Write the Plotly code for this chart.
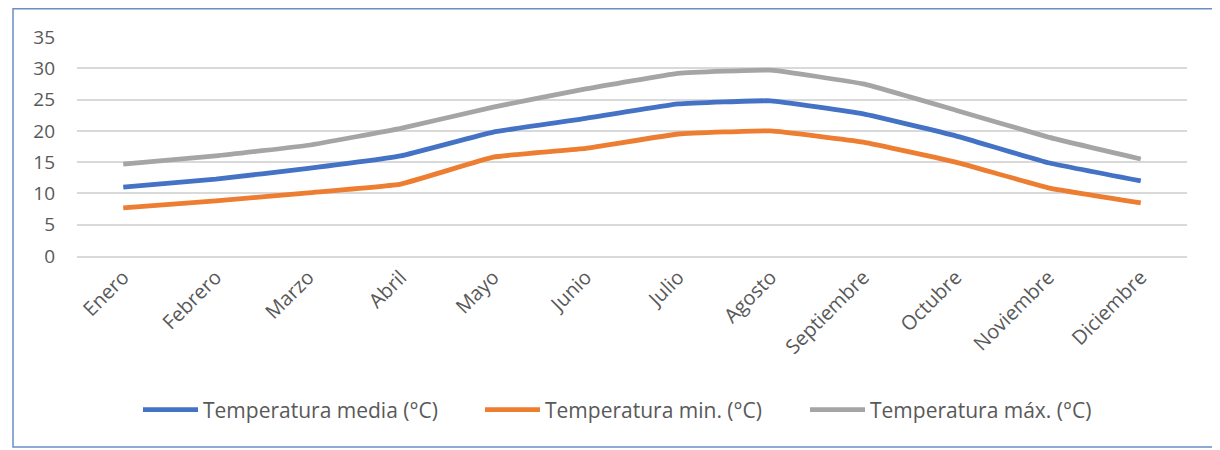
import plotly.graph_objects as go

meses = ["Enero", "Febrero", "Marzo", "Abril", "Mayo", "Junio", "Julio",
         "Agosto", "Septiembre", "Octubre", "Noviembre", "Diciembre"]
t_media = [11.0, 12.3, 14.0, 16.0, 19.8, 22.0, 24.3, 24.8, 22.7, 19.2, 14.9, 12.0]
t_min = [7.7, 8.8, 10.1, 11.5, 15.8, 17.2, 19.5, 20.0, 18.2, 15.0, 10.9, 8.5]
t_max = [14.7, 16.0, 17.7, 20.4, 23.8, 26.7, 29.2, 29.7, 27.5, 23.3, 19.0, 15.5]

names = ["Temperatura media (°C)", "Temperatura min. (°C)", "Temperatura máx. (°C)"]
colors = ["#4472C4", "#ED7D31", "#A5A5A5"]
series = [t_media, t_min, t_max]
legend_ids = ["legend", "legend2", "legend3"]

# page body has an 8px margin; figure coords = screen coords - 8
W, H = 1212, 442
L, R, T, B = 69, 33, 29, 194
pw = W - L - R
ph = H - T - B

def px_x(x):
    return (x - L) / pw

def px_y(y):
    return (T + ph - y) / ph

fig = go.Figure()
for n, c, s, lg in zip(names, colors, series, legend_ids):
    fig.add_trace(go.Scatter(x=meses, y=s, name=n, mode="lines", legend=lg,
                             line=dict(color=c, width=4.8, shape="spline", smoothing=0.3)))

legend_x = [130, 472, 797]
legends = {}
for lg, lx in zip(legend_ids, legend_x):
    legends[lg] = dict(orientation="h", x=px_x(lx), xanchor="left",
                       y=px_y(402), yanchor="middle",
                       font=dict(size=21, color="#595959"),
                       itemwidth=55, bgcolor="rgba(0,0,0,0)")

fig.update_layout(
    width=W, height=H,
    margin=dict(l=L, r=R, t=T, b=B, autoexpand=False),
    paper_bgcolor="white", plot_bgcolor="white",
    font=dict(family="'Open Sans', sans-serif", color="#595959", size=16),
    showlegend=True,
    **legends,
    xaxis=dict(type="category", range=[-0.5, 11.5], tickangle=-45,
               showgrid=False, showline=True, linecolor="#D9D9D9", linewidth=1.5,
               ticks="", automargin=False, tickfont=dict(size=20, color="#595959")),
    yaxis=dict(range=[0, 35], dtick=5, showgrid=True, gridcolor="#D9D9D9",
               gridwidth=1.5, zeroline=False, ticks="", automargin=False,
               ticklabelstandoff=21,
               tickfont=dict(size=19, color="#595959")),
    shapes=[dict(type="rect", xref="paper", yref="paper",
                 x0=px_x(5), x1=px_x(1209),
                 y0=px_y(439), y1=px_y(0.8),
                 line=dict(color="#6A8DC8", width=1.5), fillcolor="rgba(0,0,0,0)",
                 layer="below")],
)

fig.write_html("out.html")
